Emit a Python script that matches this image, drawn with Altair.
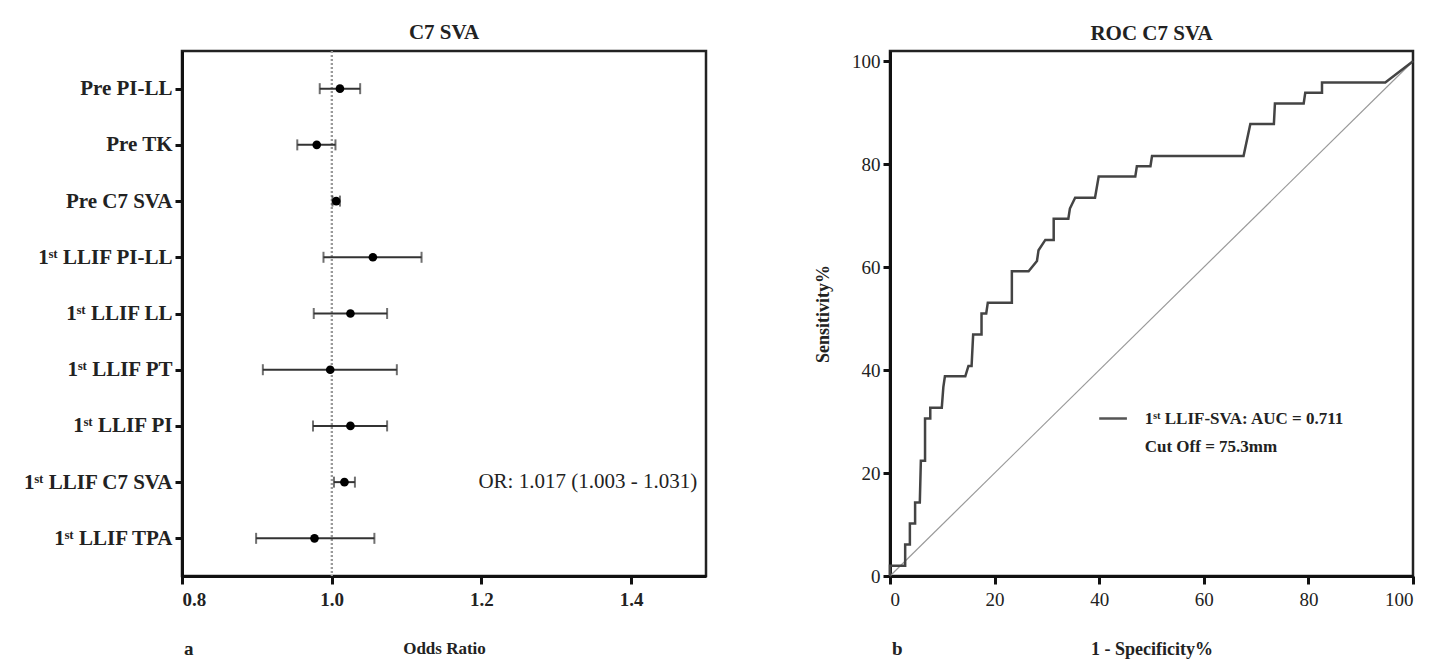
import altair as alt
import pandas as pd

# ---------------- data: forest plot (panel a) ----------------
labels = ["Pre PI-LL", "Pre TK", "Pre C7 SVA", "1ˢᵗ LLIF PI-LL", "1ˢᵗ LLIF LL",
          "1ˢᵗ LLIF PT", "1ˢᵗ LLIF PI", "1ˢᵗ LLIF C7 SVA", "1ˢᵗ LLIF TPA"]
odds = [1.011, 0.980, 1.006, 1.055, 1.025, 0.998, 1.025, 1.017, 0.977]
lower = [0.984, 0.954, 1.001, 0.989, 0.976, 0.908, 0.975, 1.003, 0.899]
upper = [1.038, 1.005, 1.011, 1.120, 1.074, 1.087, 1.074, 1.031, 1.057]
or_ticks = [0.8, 1.0, 1.2, 1.4]

# ---------------- data: ROC curve (panel b) ----------------
fpr = [0, 0, 2.9, 2.9, 3.8, 3.8, 4.8, 4.8, 5.7, 5.9, 6.7, 6.7, 7.7, 7.7, 9.9, 10.2, 10.5,
       14.4, 15.0, 15.6, 15.9, 17.5, 17.5, 18.4, 18.7, 23.3, 23.3, 26.5, 28.1, 28.4, 29.7,
       31.3, 31.3, 34.1, 34.4, 35.4, 39.2, 39.9, 46.9, 47.2, 49.8, 50.1, 67.6, 68.9, 73.4,
       73.6, 79.1, 79.4, 82.6, 82.6, 94.7, 100]
tpr = [0, 2.0, 2.0, 6.1, 6.1, 10.2, 10.2, 14.3, 14.3, 22.4, 22.4, 30.6, 30.6, 32.7, 32.7,
       36.7, 38.8, 38.8, 40.8, 40.8, 46.9, 46.9, 51.0, 51.0, 53.1, 53.1, 59.2, 59.2, 61.2,
       63.3, 65.3, 65.3, 69.4, 69.4, 71.4, 73.5, 73.5, 77.6, 77.6, 79.6, 79.6, 81.6, 81.6,
       87.8, 87.8, 91.8, 91.8, 93.9, 93.9, 95.9, 95.9, 100]
diag = [0, 100]
roc_ticks = [0, 20, 40, 60, 80, 100]
auc = 0.711
cutoff = "75.3mm"
legend_line_x = [40.0, 45.3]
legend_y = [30.6, 25.0]
legend_text_x = 48.7

FONT = "Liberation Serif"
W, H = 524, 525

forest = pd.DataFrame({"label": labels, "odds": odds, "lower": lower, "upper": upper})

ycat = alt.Y("label:N", sort=labels, title=None,
             scale=alt.Scale(type="point", padding=0.67),
             axis=alt.Axis(labelFontSize=21, labelFontWeight="bold", labelPadding=3,
                           tickSize=7, tickWidth=3, domainWidth=3))
xor_scale = alt.Scale(domain=[0.8, 1.5], nice=False, zero=False)
xor_axis = alt.Axis(values=or_ticks, format=".1f", title="Odds Ratio", titlePadding=31,
                    titleFontSize=17, labelFontSize=19, labelFontWeight="bold",
                    tickSize=8, tickWidth=3, domainWidth=3, labelPadding=6)

base = alt.Chart(forest)
refline = base.mark_rule(color="#999999", strokeDash=[2, 2], strokeWidth=1.5).encode(
    x=alt.datum(1.0, scale=xor_scale, axis=xor_axis), y=alt.value(0), y2=alt.value(H))
bars = base.mark_rule(color="#333333", strokeWidth=2).encode(
    x=alt.X("lower:Q", scale=xor_scale, axis=xor_axis), x2="upper:Q", y=ycat)
caps_lo = base.mark_tick(color="#333333", thickness=2, size=11).encode(x="lower:Q", y=ycat)
caps_hi = base.mark_tick(color="#333333", thickness=2, size=11).encode(x="upper:Q", y=ycat)
pts = base.mark_point(filled=True, color="#000000", size=75, opacity=1).encode(x="odds:Q", y=ycat)

or_df = pd.DataFrame({"label": [labels[7]], "x": [1.196],
                      "txt": [f"OR: {odds[7]:.3f} ({lower[7]:.3f} - {upper[7]:.3f})"]})
or_text = alt.Chart(or_df).mark_text(align="left", baseline="middle", fontSize=21,
                                     font=FONT, color="#222222").encode(
    x="x:Q", y=ycat, text="txt:N")
a_lbl = alt.Chart(pd.DataFrame({"t": ["a"]})).mark_text(
    align="left", baseline="middle", fontSize=19, fontWeight="bold", font=FONT,
    color="#222222").encode(x=alt.value(2), y=alt.value(H + 73), text="t:N")

left = alt.layer(refline, bars, caps_lo, caps_hi, pts, or_text, a_lbl).properties(
    width=W, height=H,
    title=alt.TitleParams("C7 SVA", fontSize=21, fontWeight="bold", font=FONT, offset=7))

# ---------------- ROC panel ----------------
roc = pd.DataFrame({"fpr": fpr, "tpr": tpr, "i": list(range(len(fpr)))})
xs = alt.Scale(domain=[0, 100], nice=False)
ys = alt.Scale(domain=[0, 102], nice=False)
xax = alt.Axis(values=roc_ticks, title="1 - Specificity%", titlePadding=31, titleFontSize=18,
               labelFontSize=19, labelFontWeight="normal", tickSize=8, tickWidth=3,
               domainWidth=3, labelPadding=6)
yax = alt.Axis(values=roc_ticks, title="Sensitivity%", titlePadding=19, titleFontSize=18,
               labelFontSize=19, labelFontWeight="normal", tickSize=7, tickWidth=3,
               domainWidth=3, labelPadding=3)

diag_df = pd.DataFrame({"x": diag, "y": diag})
diag_line = alt.Chart(diag_df).mark_line(color="#999999", strokeWidth=1.2).encode(
    x=alt.X("x:Q", scale=xs, axis=xax), y=alt.Y("y:Q", scale=ys, axis=yax))
curve = alt.Chart(roc).mark_line(color="#444444", strokeWidth=2.5).encode(
    x="fpr:Q", y="tpr:Q", order="i:Q")

leg_line_df = pd.DataFrame({"x": [legend_line_x[0]], "x2": [legend_line_x[1]], "y": [legend_y[0]]})
leg_line = alt.Chart(leg_line_df).mark_rule(color="#555555", strokeWidth=2.5).encode(
    x="x:Q", x2="x2:Q", y="y:Q")
leg_txt_df = pd.DataFrame({"x": [legend_text_x, legend_text_x], "y": legend_y,
                           "t": [f"1ˢᵗ LLIF-SVA: AUC = {auc}", f"Cut Off = {cutoff}"]})
leg_txt = alt.Chart(leg_txt_df).mark_text(align="left", baseline="middle", fontSize=17,
                                          fontWeight="bold", font=FONT, color="#222222").encode(
    x="x:Q", y="y:Q", text="t:N")
b_lbl = alt.Chart(pd.DataFrame({"t": ["b"]})).mark_text(
    align="left", baseline="middle", fontSize=19, fontWeight="bold", font=FONT,
    color="#222222").encode(x=alt.value(2), y=alt.value(H + 73), text="t:N")

right = alt.layer(diag_line, curve, leg_line, leg_txt, b_lbl).properties(
    width=523, height=H,
    title=alt.TitleParams("ROC C7 SVA", fontSize=21, fontWeight="bold", font=FONT, offset=7))

chart = alt.hconcat(left, right, spacing=105).configure(
    font=FONT, padding={"left": 13, "top": 13, "right": 0, "bottom": 5}
).configure_view(stroke="#222222", strokeWidth=2.5).configure_axis(
    grid=False, domainColor="#111111", tickColor="#111111", labelColor="#222222",
    titleColor="#222222", labelFont=FONT, titleFont=FONT, titleFontWeight="bold"
).configure_title(color="#222222")

chart.save("out.html", embed_options={"renderer": "svg", "actions": False})
